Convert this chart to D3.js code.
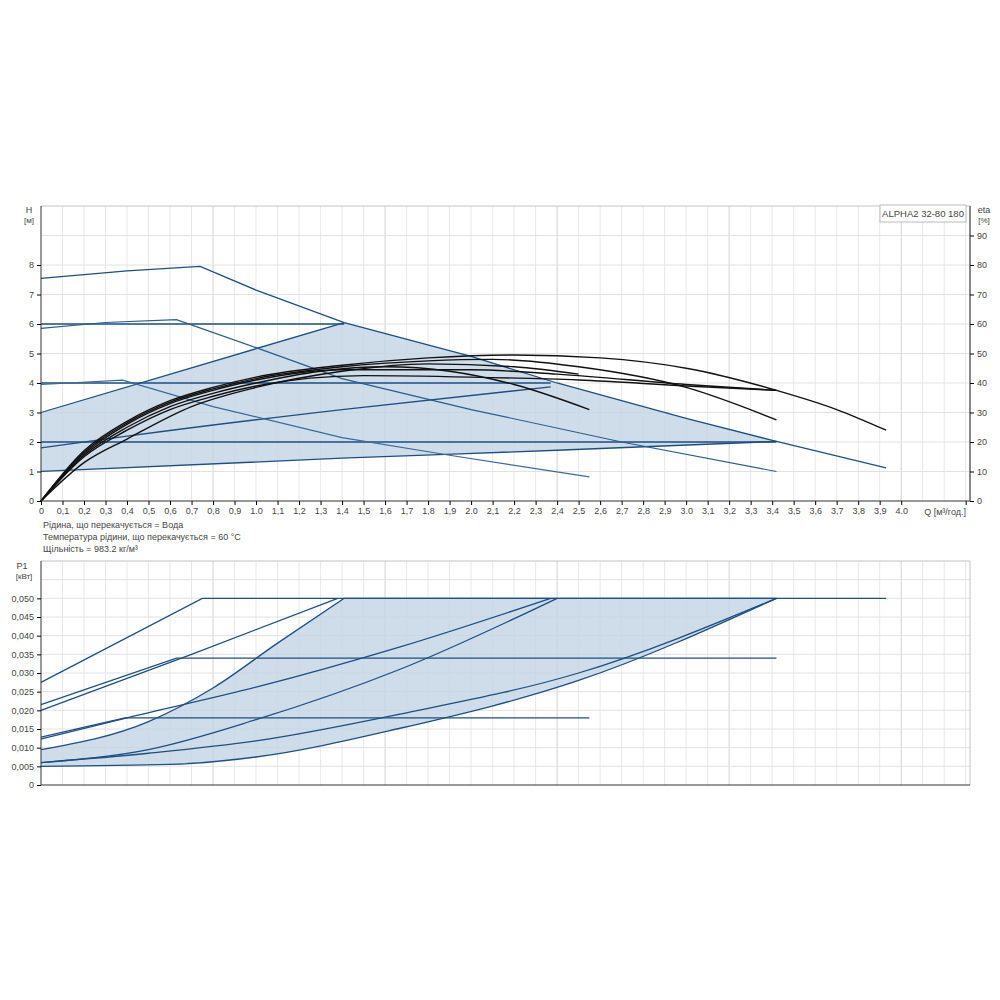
<!DOCTYPE html>
<html><head><meta charset="utf-8">
<script src="https://cdn.jsdelivr.net/npm/d3@7"></script>
<style>body{margin:0;background:#fff}text{font-family:Arial,"Liberation Sans",sans-serif;fill:#444}</style>
</head><body><div id="chart"></div>
<script>
// pump curves: ALPHA2 32-80 180

// H [m] vs Q [m3/h]
const hSpeed3 = [[0,7.55],[0.4,7.8],[0.74,7.95],[1.0,7.15],[1.41,6.05],[2.0,4.9],[2.4,4.0],[3.0,2.8],[3.42,2.02],[3.93,1.12]];
const hSpeed2 = [[0,5.85],[0.3,6.05],[0.63,6.15],[1.0,5.2],[1.4,4.15],[2.0,3.1],[2.7,2.0],[3.42,1.0]];
const hSpeed1 = [[0,3.95],[0.38,4.1],[0.8,3.2],[1.4,2.15],[1.9,1.55],[2.55,0.82]];
const hPP1 = [[0,1.0],[1.4,1.45],[2.4,1.72],[3.42,2.02]];
const hPP2 = [[0,1.8],[0.4,2.2],[1.4,3.1],[2.37,3.87]];
const hPP3 = [[0,3.0],[1.41,6.05]];
const hCP = [[2, 3.42], [4, 2.37], [6, 1.41]]; // [head, end Q]
const hArea = [[0,1.0],[1.4,1.45],[2.4,1.72],[3.42,2.02],[3.0,2.8],[2.4,4.0],[2.0,4.9],[1.41,6.05],[0,3.0]];

// eta [%] vs Q
const eta1 = [[0,0],[0.2,17],[0.4,27],[0.6,34],[0.8,38.5],[1.0,42],[1.4,46],[1.8,48.5],[2.2,49.5],[2.6,48.5],[3.0,45],[3.42,37.5],[3.7,31],[3.93,24]];
const eta2 = [[0,0],[0.2,16.5],[0.4,26.5],[0.6,33.5],[0.8,38],[1.0,41.5],[1.4,45.5],[1.8,47.5],[2.1,48],[2.5,45.5],[3.0,38.5],[3.42,27.5]];
const eta3 = [[0,0],[0.2,15.5],[0.4,25],[0.6,32],[0.8,36.5],[1.0,40],[1.3,44],[1.6,45.5],[1.9,44],[2.2,39.5],[2.55,31]];
const eta4 = [[0,0],[0.2,16],[0.4,26],[0.6,33],[0.8,37.5],[1.0,41],[1.4,44.5],[2.0,44.5],[2.4,43],[3.0,39.5],[3.42,37.5]];
const eta5 = [[0,0],[0.2,15],[0.4,24],[0.6,31],[0.8,35.5],[1.0,39],[1.5,42.5],[2.0,42],[2.5,41],[3.0,39],[3.42,37.5]];
const eta6 = [[0,0],[0.2,13],[0.4,21],[0.7,32],[1.0,38.5],[1.4,44],[1.8,46.5],[2.2,45.5],[2.5,43]];
const etaCurves = [eta1, eta2, eta3, eta4, eta5, eta6];

// P1 [kW] vs Q
const pSpeed3 = [[0,0.0275],[0.75,0.050],[3.93,0.050]];
const pSpeed2 = [[0,0.0215],[0.63,0.034],[3.42,0.034]];
const pSpeed1 = [[0,0.0128],[0.39,0.018],[2.55,0.018]];
const pLineC = [[0,0.020],[0.7,0.035],[1.38,0.050]];
const pLineE = [[0,0.0123],[0.4,0.018],[1.0,0.0262],[1.67,0.037],[2.37,0.050]];
const pLineF = [[0,0.0095],[0.5,0.017],[0.8,0.026],[1.1,0.038],[1.41,0.050]];
const pLineG = [[0,0.006],[0.5,0.0095],[1.0,0.0175],[1.67,0.031],[2.4,0.050]];
const pLineH = [[0,0.006],[0.5,0.0085],[1.0,0.0118],[1.67,0.019],[2.5,0.030],[3.42,0.050]];
const pLineI = [[0,0.005],[0.6,0.0055],[1.0,0.0075],[1.67,0.0152],[2.5,0.028],[3.42,0.050]];
const pFlatMax = [[1.41,0.050],[3.42,0.050]];

const hTicks = [0,1,2,3,4,5,6,7,8];
const etaTicks = [0,10,20,30,40,50,60,70,80,90];
const pTicks = [0,0.005,0.010,0.015,0.020,0.025,0.030,0.035,0.040,0.045,0.050];
const qTicks = d3.range(0, 41).map(i => i / 10);
const infoLines = ['Рідина, що перекачується = Вода', 'Температура рідини, що перекачується = 60 °C', 'Щільність = 983.2 кг/м³'];

const blue = '#1d4f82';
const fill = '#c3d3e4';
const svg = d3.select('#chart').append('svg').attr('width', 1000).attr('height', 1000);

const x = d3.scaleLinear().domain([0, 4.32]).range([41, 970]);
const yH = d3.scaleLinear().domain([0, 10]).range([501, 206]);
const yE = d3.scaleLinear().domain([0, 100]).range([501, 206]);
const yP = d3.scaleLinear().domain([0, 0.06]).range([785, 561]);
const gridQ = d3.range(1, 44).map(i => i / 10);

function grid(y, vals, top, bottom) {
	const g = svg.append('g');
	g.selectAll('.v').data(gridQ).enter().append('line')
		.attr('x1', d => x(d)).attr('x2', d => x(d)).attr('y1', top).attr('y2', bottom)
		.attr('stroke', d => (Math.round(d * 10) % 8 === 0) ? '#d2d2d2' : '#e8e8e8');
	g.selectAll('.h').data(vals).enter().append('line')
		.attr('x1', 41).attr('x2', 970).attr('y1', d => y(d)).attr('y2', d => y(d))
		.attr('stroke', '#e2e2e2');
	g.append('line').attr('x1', 41).attr('x2', 970).attr('y1', top).attr('y2', top).attr('stroke', '#c4c4c4');
	g.append('line').attr('x1', 970).attr('x2', 970).attr('y1', top).attr('y2', bottom).attr('stroke', '#c4c4c4');
}
grid(yH, [1,2,3,4,5,6,7,8,9], 206, 501);
grid(yP, d3.range(1, 12).map(i => i * 0.005), 561, 785);

function draw(data, y, color, w, curve) {
	svg.append('path').datum(data)
		.attr('d', d3.line().x(d => x(d[0])).y(d => y(d[1])).curve(curve || d3.curveLinear))
		.attr('fill', 'none').attr('stroke', color).attr('stroke-width', w);
}
function area(data, y) {
	const line = d3.line().x(d => x(d[0])).y(d => y(d[1]));
	svg.append('path').datum(data)
		.attr('d', d => line(d) + 'Z')
		.attr('fill', fill).attr('fill-opacity', 0.8);
}

// top chart
area(hArea, yH);
[hPP1, hPP2, hPP3].forEach(d => draw(d, yH, blue, 1.3, d3.curveMonotoneX));
hCP.forEach(([h, q]) => draw([[0, h], [q, h]], yH, blue, 1.3));
draw(hSpeed1, yH, '#3a6a9a', 1.2);
draw(hSpeed2, yH, '#2a5d90', 1.2);
draw(hSpeed3, yH, blue, 1.3);
etaCurves.forEach(d => draw(d, yE, '#111', 1.4, d3.curveMonotoneX));

// bottom chart
const fLine = d3.line().x(d => x(d[0])).y(d => y(d[1]));
const pAreaPts = [];
const iCurve = d3.line().x(d => x(d[0])).y(d => yP(d[1])).curve(d3.curveMonotoneX);
const fCurveRev = d3.line().x(d => x(d[0])).y(d => yP(d[1])).curve(d3.curveMonotoneX);
svg.append('path')
	.attr('d', iCurve(pLineI) + 'L' + x(1.41) + ',' + yP(0.050) + fCurveRev(pLineF.slice().reverse()).replace(/^M/, 'L') + 'Z')
	.attr('fill', fill).attr('fill-opacity', 0.8);
[pSpeed3, pSpeed2, pSpeed1, pFlatMax].forEach(d => draw(d, yP, blue, 1.3));
[pLineC, pLineE, pLineF, pLineG, pLineH, pLineI].forEach(d => draw(d, yP, blue, 1.3, d3.curveMonotoneX));

// axes
function leftAxis(y, ticks, fmt, top, bottom) {
	svg.append('g').attr('transform', 'translate(41,0)')
		.call(d3.axisLeft(y).tickValues(ticks).tickFormat(fmt).tickSize(4))
		.call(g => { g.select('.domain').attr('d', `M0,${top}V${bottom}`).attr('stroke', '#333'); g.selectAll('text').style('font-size', '9px').style('fill', '#444'); });
}
leftAxis(yH, hTicks, d => d, 206, 501);
leftAxis(yP, pTicks, d => d === 0 ? '0' : d.toFixed(3).replace('.', ','), 561, 785);
svg.append('g').attr('transform', 'translate(970,0)')
	.call(d3.axisRight(yE).tickValues(etaTicks).tickSize(4))
	.call(g => { g.select('.domain').attr('d', 'M0,206V501').attr('stroke', '#333'); g.selectAll('text').style('font-size', '9px').style('fill', '#444'); });

const qFmt = d => d === 0 ? '0' : (Math.round(d * 10) % 10 === 0 ? d.toFixed(1) : d.toFixed(1).replace('.', ','));
svg.append('g').attr('transform', 'translate(0,501)')
	.call(d3.axisBottom(x).tickValues(qTicks.concat([4.3])).tickFormat(d => d > 4.05 ? '' : qFmt(d)).tickSize(4))
	.call(g => { g.select('.domain').attr('d', 'M41,0H970').attr('stroke', '#333'); g.selectAll('text').style('font-size', '9px').style('fill', '#444'); });
svg.append('g').attr('transform', 'translate(0,785)')
	.call(d3.axisBottom(x).tickValues([]).tickSize(0))
	.call(g => g.select('.domain').attr('d', 'M41,0H970').attr('stroke', '#333'));

svg.append('text').attr('x', 966).attr('y', 515).attr('text-anchor', 'end').style('font-size', '9px').text('Q [м³/год.]');
svg.append('text').attr('x', 29).attr('y', 213).attr('text-anchor', 'middle').style('font-size', '9px').text('H');
svg.append('text').attr('x', 29).attr('y', 223).attr('text-anchor', 'middle').style('font-size', '8px').text('[м]');
svg.append('text').attr('x', 984).attr('y', 213).attr('text-anchor', 'middle').style('font-size', '9px').text('eta');
svg.append('text').attr('x', 984).attr('y', 223).attr('text-anchor', 'middle').style('font-size', '8px').text('[%]');
svg.append('text').attr('x', 22).attr('y', 569).attr('text-anchor', 'middle').style('font-size', '9px').text('P1');
svg.append('text').attr('x', 24).attr('y', 579).attr('text-anchor', 'middle').style('font-size', '8px').text('[кВт]');

svg.append('rect').attr('x', 880).attr('y', 205).attr('width', 86).attr('height', 17).attr('fill', '#fff').attr('stroke', '#bbb');
svg.append('text').attr('x', 923).attr('y', 217).attr('text-anchor', 'middle').style('font-size', '9.5px').text('ALPHA2 32-80 180');

svg.selectAll('.info').data(infoLines).enter().append('text')
	.attr('x', 43).attr('y', (d, i) => 528 + i * 12).style('font-size', '9px').text(d => d);
</script></body></html>
